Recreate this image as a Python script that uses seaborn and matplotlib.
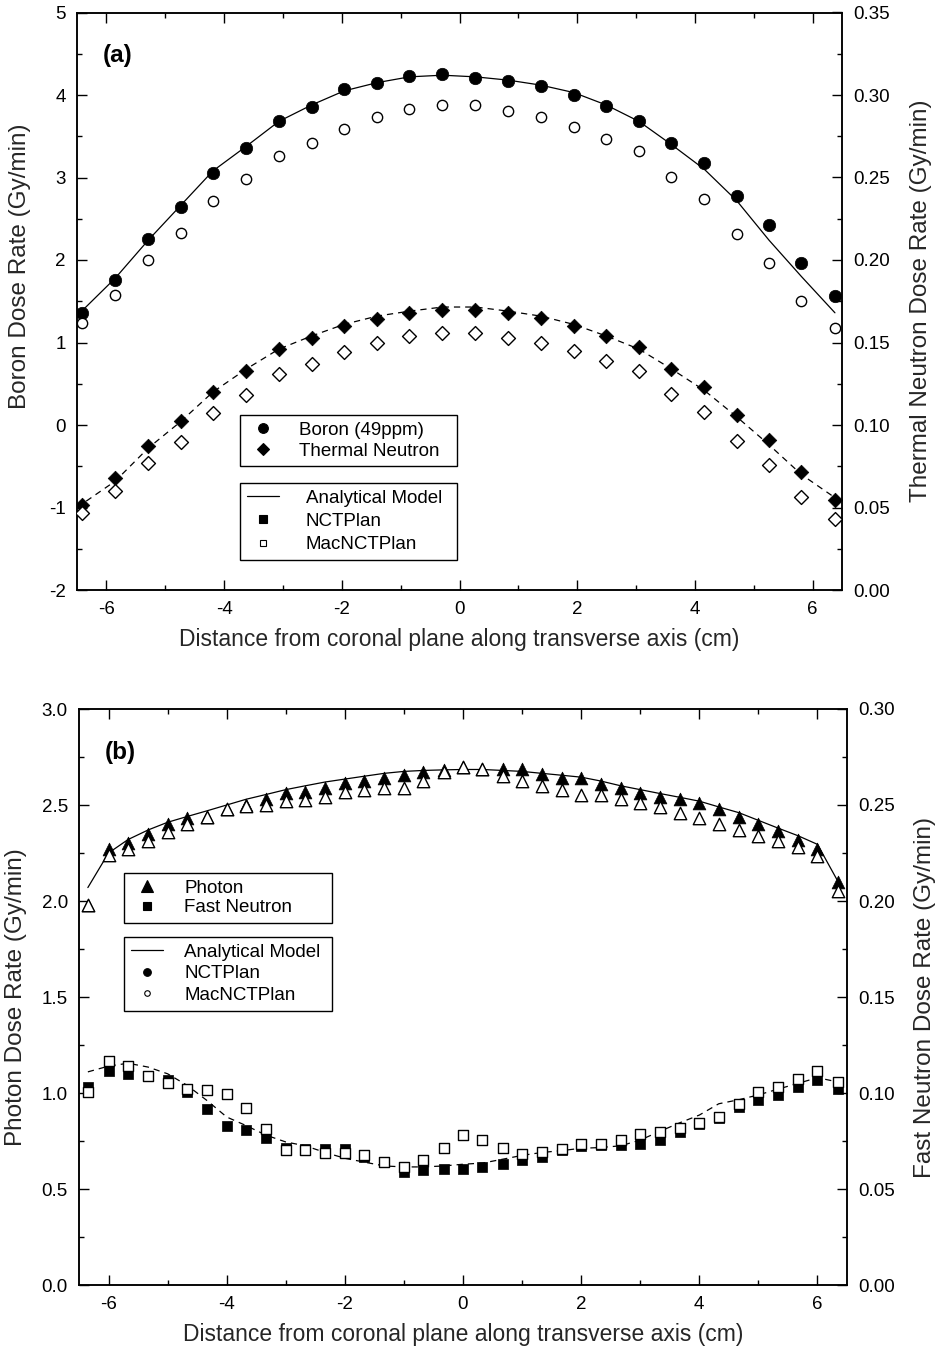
import matplotlib
matplotlib.use("Agg")
import matplotlib.pyplot as plt
from matplotlib.lines import Line2D
from matplotlib.ticker import MultipleLocator, FormatStrFormatter
import pandas as pd
import seaborn as sns

# ---------------- panel (a): boron and thermal neutron ----------------
a_x = [-6.42, -5.85, -5.29, -4.74, -4.19, -3.62, -3.07, -2.51, -1.96, -1.40, -0.85, -0.29,
       0.27, 0.83, 1.38, 1.94, 2.49, 3.05, 3.60, 4.16, 4.71, 5.26, 5.81, 6.38]

boron_nctplan = [1.36, 1.76, 2.26, 2.64, 3.06, 3.36, 3.69, 3.86, 4.07, 4.15, 4.23, 4.26,
                 4.21, 4.17, 4.11, 4.00, 3.87, 3.68, 3.42, 3.18, 2.78, 2.43, 1.96, 1.56]
boron_mac = [1.24, 1.58, 2.00, 2.33, 2.72, 2.98, 3.26, 3.42, 3.59, 3.73, 3.83, 3.88,
             3.88, 3.81, 3.73, 3.61, 3.47, 3.32, 3.01, 2.74, 2.32, 1.96, 1.50, 1.17]

boron_model_x = [-6.50, -6.42, -5.85, -5.29, -4.74, -4.19, -3.62, -3.07, -2.51, -1.96, -1.40,
                 -0.85, -0.29, 0.27, 0.83, 1.38, 1.94, 2.49, 3.05, 3.60, 4.16, 4.71, 5.26,
                 5.81, 6.38]
boron_model = [1.30, 1.38, 1.78, 2.24, 2.66, 3.08, 3.38, 3.68, 3.88, 4.05, 4.15, 4.22, 4.24,
               4.22, 4.18, 4.12, 4.03, 3.88, 3.68, 3.40, 3.10, 2.72, 2.24, 1.80, 1.36]

thermal_nctplan = [0.0515, 0.0680, 0.0875, 0.1027, 0.1203, 0.1325, 0.1460, 0.1530, 0.1600,
                   0.1640, 0.1680, 0.1700, 0.1700, 0.1680, 0.1650, 0.1600, 0.1540, 0.1470,
                   0.1340, 0.1230, 0.1060, 0.0910, 0.0715, 0.0545]
thermal_mac = [0.0465, 0.0600, 0.0770, 0.0900, 0.1070, 0.1180, 0.1310, 0.1370, 0.1440, 0.1500,
               0.1540, 0.1560, 0.1560, 0.1530, 0.1500, 0.1450, 0.1390, 0.1330, 0.1190, 0.1080,
               0.0905, 0.0760, 0.0565, 0.0430]

thermal_model_x = [-6.50, -5.85, -5.29, -4.74, -4.19, -3.62, -3.07, -2.51, -1.96, -1.40, -0.85,
                   -0.29, 0.27, 0.83, 1.38, 1.94, 2.49, 3.05, 3.60, 4.16, 4.71, 5.26, 5.81, 6.50]
thermal_model = [0.0500, 0.0660, 0.0860, 0.1020, 0.1200, 0.1340, 0.1460, 0.1540, 0.1610, 0.1660,
                 0.1690, 0.1715, 0.1715, 0.1690, 0.1660, 0.1610, 0.1540, 0.1460, 0.1340, 0.1210,
                 0.1050, 0.0880, 0.0700, 0.0530]

# ---------------- panel (b): photon and fast neutron ----------------
b_x = [-6.35, -6.00, -5.67, -5.33, -5.00, -4.67, -4.33, -4.00, -3.67, -3.33, -3.00, -2.67,
       -2.33, -2.00, -1.67, -1.33, -1.00, -0.67, -0.33, 0.00, 0.33, 0.67, 1.00, 1.33, 1.67,
       2.00, 2.33, 2.67, 3.00, 3.33, 3.67, 4.00, 4.33, 4.67, 5.00, 5.33, 5.67, 6.00, 6.35]

photon_nctplan = [1.98, 2.27, 2.30, 2.35, 2.40, 2.43, 2.44, 2.48, 2.50, 2.53, 2.56, 2.57, 2.59,
                  2.616, 2.625, 2.64, 2.656, 2.67, 2.68, 2.70, 2.69, 2.69, 2.69, 2.66, 2.64,
                  2.64, 2.61, 2.59, 2.56, 2.54, 2.53, 2.51, 2.48, 2.44, 2.40, 2.365, 2.32,
                  2.27, 2.10]
photon_mac = [1.98, 2.24, 2.27, 2.31, 2.36, 2.40, 2.44, 2.48, 2.495, 2.50, 2.52, 2.525, 2.54,
              2.57, 2.58, 2.59, 2.59, 2.625, 2.67, 2.70, 2.69, 2.65, 2.625, 2.60, 2.58, 2.55,
              2.55, 2.53, 2.51, 2.49, 2.46, 2.43, 2.40, 2.37, 2.34, 2.31, 2.28, 2.235, 2.05]
photon_model = [2.07, 2.25, 2.32, 2.37, 2.41, 2.44, 2.47, 2.50, 2.53, 2.555, 2.58, 2.60, 2.62,
                2.635, 2.65, 2.665, 2.675, 2.68, 2.683, 2.685, 2.685, 2.68, 2.675, 2.665, 2.655,
                2.645, 2.625, 2.60, 2.58, 2.56, 2.54, 2.52, 2.49, 2.46, 2.42, 2.38, 2.34,
                2.295, 2.10]

fast_nctplan = [0.1031, 0.1117, 0.1100, 0.1090, 0.1070, 0.1005, 0.0918, 0.0828, 0.0806, 0.0766,
                0.0714, 0.0710, 0.0710, 0.0710, 0.0667, 0.0640, 0.0589, 0.0598, 0.0603, 0.0603,
                0.0615, 0.0629, 0.0650, 0.0667, 0.0705, 0.0725, 0.0730, 0.0728, 0.0733, 0.0757,
                0.0797, 0.0840, 0.0870, 0.0927, 0.0965, 0.0988, 0.1031, 0.1066, 0.1019]
fast_mac = [0.1005, 0.1166, 0.1140, 0.1090, 0.1050, 0.1020, 0.1017, 0.0996, 0.0924, 0.0814,
            0.0702, 0.0702, 0.0690, 0.0690, 0.0676, 0.0640, 0.0612, 0.0650, 0.0716, 0.0783,
            0.0754, 0.0716, 0.0680, 0.0693, 0.0710, 0.0733, 0.0736, 0.0757, 0.0785, 0.0797,
            0.0820, 0.0844, 0.0875, 0.0944, 0.1005, 0.1031, 0.1074, 0.1114, 0.1057]
fast_model = [0.1110, 0.1140, 0.1155, 0.1135, 0.1100, 0.1040, 0.0960, 0.0875, 0.0830, 0.0780,
              0.0745, 0.0725, 0.0690, 0.0660, 0.0640, 0.0620, 0.0615, 0.0615, 0.0620, 0.0629,
              0.0635, 0.0655, 0.0675, 0.0690, 0.0700, 0.0712, 0.0716, 0.0725, 0.0755, 0.0800,
              0.0845, 0.0885, 0.0944, 0.0965, 0.0990, 0.1020, 0.1050, 0.1080, 0.1057]

x_label = "Distance from coronal plane along transverse axis (cm)"

# ---------------- styling ----------------
sns.set_theme(style="ticks")
plt.rcParams["font.family"] = ["Liberation Sans", "DejaVu Sans"]
plt.rcParams["axes.unicode_minus"] = False
plt.rcParams["axes.linewidth"] = 1.1
plt.rcParams["axes.edgecolor"] = "black"
plt.rcParams["text.color"] = "black"
plt.rcParams["xtick.color"] = "black"
plt.rcParams["ytick.color"] = "black"

TICK_FS = 13.5
LABEL_FS = 16.5
YLABEL_FS = 17.5
LEG_FS = 13.5

fig = plt.figure(figsize=(9.35, 13.5), dpi=100)
fig.patch.set_facecolor("white")
ax_a = fig.add_axes([77 / 935, 1 - 590 / 1350, 765 / 935, 577.5 / 1350])
ax_a2 = ax_a.twinx()
ax_b = fig.add_axes([79 / 935, 1 - 1285 / 1350, 768 / 935, 576 / 1350])
ax_b2 = ax_b.twinx()


def style_axes(ax, ax2, ylim, ylim2, ymaj, ymin, ymaj2, ymin2, yfmt, yfmt2):
    ax.set_xlim(-6.5, 6.5)
    ax.set_ylim(*ylim)
    ax2.set_ylim(*ylim2)
    ax.xaxis.set_major_locator(MultipleLocator(2))
    ax.xaxis.set_minor_locator(MultipleLocator(1))
    ax.yaxis.set_major_locator(MultipleLocator(ymaj))
    ax.yaxis.set_minor_locator(MultipleLocator(ymin))
    ax2.yaxis.set_major_locator(MultipleLocator(ymaj2))
    ax2.yaxis.set_minor_locator(MultipleLocator(ymin2))
    ax.xaxis.set_major_formatter(FormatStrFormatter("%d"))
    ax.yaxis.set_major_formatter(FormatStrFormatter(yfmt))
    ax2.yaxis.set_major_formatter(FormatStrFormatter(yfmt2))
    ax.tick_params(which="both", direction="in", top=True, right=False,
                   labelsize=TICK_FS, width=1.0, pad=8)
    ax.tick_params(which="major", length=7)
    ax.tick_params(which="minor", length=3.5)
    ax2.tick_params(which="both", direction="in", labelsize=TICK_FS, width=1.0, pad=8)
    ax2.tick_params(which="major", length=7)
    ax2.tick_params(which="minor", length=3.5)
    for sp in list(ax.spines.values()) + list(ax2.spines.values()):
        sp.set_linewidth(1.1)
        sp.set_color("black")
    ax.set_xlabel(x_label, fontsize=LABEL_FS, labelpad=7)


def place_ylabel(axis, text, x, y):
    axis.set_ylabel(text, fontsize=YLABEL_FS)
    axis.yaxis.set_label_coords(x, y)
    axis.yaxis.label.set_verticalalignment("center")
    axis.yaxis.label.set_horizontalalignment("center")


def draw_line(ax, x, y, dashed=False):
    kw = dict(color="black", linewidth=0.9, legend=False, estimator=None, sort=False)
    if dashed:
        kw["linestyle"] = (0, (5, 4))
    sns.lineplot(data=pd.DataFrame({"x": x, "y": y}), x="x", y="y", ax=ax, zorder=2, **kw)


def draw_points(ax, x, y, marker, s, filled):
    sns.scatterplot(data=pd.DataFrame({"x": x, "y": y}), x="x", y="y", ax=ax,
                    marker=marker, s=s, color="black" if filled else "white",
                    edgecolor="black", linewidth=0.5 if filled else 1.0,
                    legend=False, zorder=3 if filled else 4)


# ---- panel (a)
style_axes(ax_a, ax_a2, (-2, 5), (0, 0.35), 1, 0.5, 0.05, 0.025, "%d", "%.2f")
draw_line(ax_a, boron_model_x, boron_model)
draw_points(ax_a, a_x, boron_nctplan, "o", 80, True)
draw_points(ax_a, a_x, boron_mac, "o", 55, False)
draw_line(ax_a2, thermal_model_x, thermal_model, dashed=True)
draw_points(ax_a2, a_x, thermal_nctplan, "D", 55, True)
draw_points(ax_a2, a_x, thermal_mac, "D", 50, False)
place_ylabel(ax_a, "Boron Dose Rate (Gy/min)", -0.074, 0.56)
place_ylabel(ax_a2, "Thermal Neutron Dose Rate (Gy/min)", 1.1035, 0.5)
ax_a.text(0.034, 0.926, "(a)", transform=ax_a.transAxes, fontsize=17.5, fontweight="bold",
          va="center", ha="left")

# ---- panel (b)
style_axes(ax_b, ax_b2, (0, 3.0), (0, 0.30), 0.5, 0.25, 0.05, 0.025, "%.1f", "%.2f")
draw_line(ax_b, b_x, photon_model)
draw_points(ax_b, b_x, photon_nctplan, "^", 85, True)
draw_points(ax_b, b_x, photon_mac, "^", 80, False)
draw_line(ax_b2, b_x, fast_model, dashed=True)
draw_points(ax_b2, b_x, fast_nctplan, "s", 60, True)
draw_points(ax_b2, b_x, fast_mac, "s", 55, False)
place_ylabel(ax_b, "Photon Dose Rate (Gy/min)", -0.082, 0.5)
place_ylabel(ax_b2, "Fast Neutron Dose Rate (Gy/min)", 1.1015, 0.5)
ax_b.text(0.034, 0.925, "(b)", transform=ax_b.transAxes, fontsize=17.5, fontweight="bold",
          va="center", ha="left")


def marker_handle(marker, size, filled):
    return Line2D([], [], linestyle="none", marker=marker, markersize=size,
                  markerfacecolor="black" if filled else "white",
                  markeredgecolor="black", markeredgewidth=0.8)


def boxed_legend(ax, handles, labels, anchor, spacing, pad):
    leg = ax.legend(handles, labels, loc="upper left", bbox_to_anchor=anchor, mode="expand",
                    borderaxespad=0, fontsize=LEG_FS, frameon=True, fancybox=False,
                    framealpha=1, edgecolor="black", facecolor="white",
                    handlelength=1.75, handletextpad=pad, borderpad=0.35,
                    labelspacing=spacing)
    leg.get_frame().set_linewidth(1.0)
    leg.set_zorder(10)
    return leg


model_handle = Line2D([], [], color="black", linewidth=0.9)

leg_a1 = boxed_legend(ax_a2, [marker_handle("o", 7, True), marker_handle("D", 6.5, True)],
                      ["Boron (49ppm)", "Thermal Neutron"],
                      (0.213, 0.0, 0.284, 0.303), 0.2, 1.05)
ax_a2.add_artist(leg_a1)
boxed_legend(ax_a2, [model_handle, marker_handle("s", 5.5, True), marker_handle("s", 5, False)],
             ["Analytical Model", "NCTPlan", "MacNCTPlan"],
             (0.213, 0.0, 0.284, 0.185), 0.32, 1.4)

leg_b1 = boxed_legend(ax_b2, [marker_handle("^", 8, True), marker_handle("s", 6, True)],
                      ["Photon", "Fast Neutron"],
                      (0.0586, 0.0, 0.271, 0.715), 0.13, 1.1)
ax_b2.add_artist(leg_b1)
boxed_legend(ax_b2, [model_handle, marker_handle("o", 5.5, True), marker_handle("o", 4, False)],
             ["Analytical Model", "NCTPlan", "MacNCTPlan"],
             (0.0586, 0.0, 0.271, 0.604), 0.24, 1.1)

fig.savefig("out.png", dpi=100, facecolor="white")
